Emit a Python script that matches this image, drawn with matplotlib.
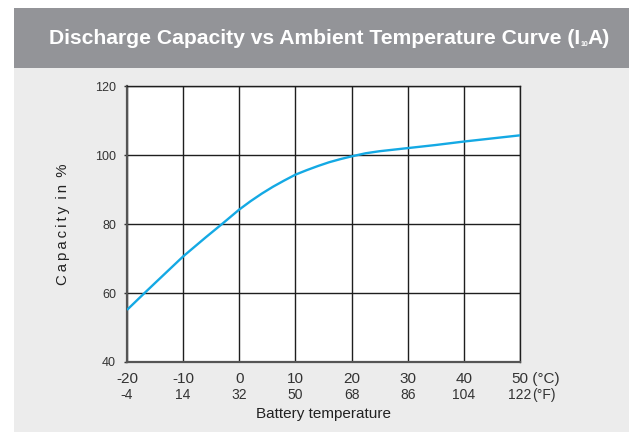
import matplotlib
matplotlib.use("Agg")
import matplotlib.pyplot as plt
import numpy as np

plt.rcParams['font.family'] = ['Liberation Sans', 'DejaVu Sans']

# values
temp_c = [-20, -17, -15, -10, -6, -3, 0, 2, 4, 6, 8, 10, 12, 14, 16, 18, 20,
          22.5, 25, 30, 35, 40, 45, 50]
capacity = [55.1, 59.8, 62.9, 70.6, 76.1, 80.1, 84.2, 86.6, 88.8, 90.8, 92.6, 94.3,
            95.6, 96.8, 97.9, 98.8, 99.6, 100.5, 101.1, 102.0, 102.9, 103.9,
            104.8, 105.7]

xticks_c = [-20, -10, 0, 10, 20, 30, 40, 50]
xticks_f = ["-4", "14", "32", "50", "68", "86", "104", "122"]
yticks = [40, 60, 80, 100, 120]

title_main = "Discharge Capacity vs Ambient Temperature Curve (I"
title_sub = "10"
title_end = "A)"
ylabel = "Capacity in %"

fig = plt.figure(figsize=(6.29, 4.32), dpi=100)
fig.patch.set_facecolor("#ececec")
renderer = fig.canvas.get_renderer()
W, H = fig.bbox.width, fig.bbox.height

# white margins top/left and grey header band
fig.patches.append(plt.Rectangle((0, 0), 14 / 629, 1, transform=fig.transFigure,
                                 facecolor="white", edgecolor="none", zorder=0))
fig.patches.append(plt.Rectangle((0, 1 - 8 / 432), 1, 8 / 432, transform=fig.transFigure,
                                 facecolor="white", edgecolor="none", zorder=0))
fig.patches.append(plt.Rectangle((14 / 629, 1 - 68 / 432), 1, 60 / 432,
                                 transform=fig.transFigure,
                                 facecolor="#939498", edgecolor="none", zorder=0))

ax = fig.add_axes([127 / 629, 70 / 432, 393 / 629, 276 / 432])
ax.set_facecolor("white")
ax.plot(temp_c, capacity, color="#14a9e4", lw=1.7, solid_joinstyle="round",
        solid_capstyle="butt", zorder=3)

ax.set_xlim(-20, 50)
ax.set_ylim(40, 120)
ax.set_xticks(xticks_c)
ax.set_yticks(yticks)
ax.grid(True, color="#1e1e1e", lw=1.0)
ax.set_axisbelow(True)
for s in ax.spines.values():
    s.set_color("#1e1e1e")
    s.set_linewidth(1.0)
ax.spines["left"].set_color("#555555")
ax.spines["left"].set_linewidth(1.6)
ax.spines["bottom"].set_color("#555555")
ax.spines["bottom"].set_linewidth(1.6)

ax.tick_params(axis="y", length=2, width=1, color="#333333", labelsize=9,
               labelcolor="#333333", pad=6)
ax.tick_params(axis="x", length=0, labelbottom=False)

# two-row x tick labels (°C on top, °F below)
xt = ax.get_xaxis_transform()
for c, f in zip(xticks_c, xticks_f):
    tc = ax.text(c, -0.035, str(c), transform=xt, ha="center", va="top",
                 fontsize=11, color="#333333")
    tf = ax.text(c, -0.095, f, transform=xt, ha="center", va="top",
                 fontsize=10, color="#333333")
# units follow the last numbers
bc = tc.get_window_extent(renderer)
bf = tf.get_window_extent(renderer)
fig.text(bc.x1 / W, bc.y1 / H, " (°C)", ha="left", va="top", fontsize=11,
         color="#333333")
fig.text(bf.x1 / W, bf.y1 / H, "(°F)", ha="left", va="top", fontsize=10,
         color="#333333")

fig.text(323.5 / 629, 1 - 414 / 432, "Battery temperature", ha="center", va="center",
         fontsize=11, color="#222222")
# letter-spaced y label
spaced = " \u2009".join("\u2009".join(w) for w in ylabel.split(" "))
fig.text(63 / 629, 1 - 224 / 432, spaced, rotation=90,
         ha="center", va="center", fontsize=10.8, color="#222222")

# title with tiny subscript
t1 = fig.text(49 / 629, 1 - 38 / 432, title_main, ha="left", va="center",
              fontsize=15.2, fontweight="bold", color="white")
bb = t1.get_window_extent(renderer)
t2 = fig.text(bb.x1 / W + 0.001, 1 - 44 / 432, title_sub, ha="left", va="center",
              fontsize=5, fontweight="bold", color="white")
bb2 = t2.get_window_extent(renderer)
fig.text(bb2.x1 / W - 0.002, 1 - 38 / 432, title_end, ha="left",
         va="center", fontsize=15.2, fontweight="bold", color="white")

fig.savefig("out.png", dpi=100, facecolor=fig.get_facecolor())
